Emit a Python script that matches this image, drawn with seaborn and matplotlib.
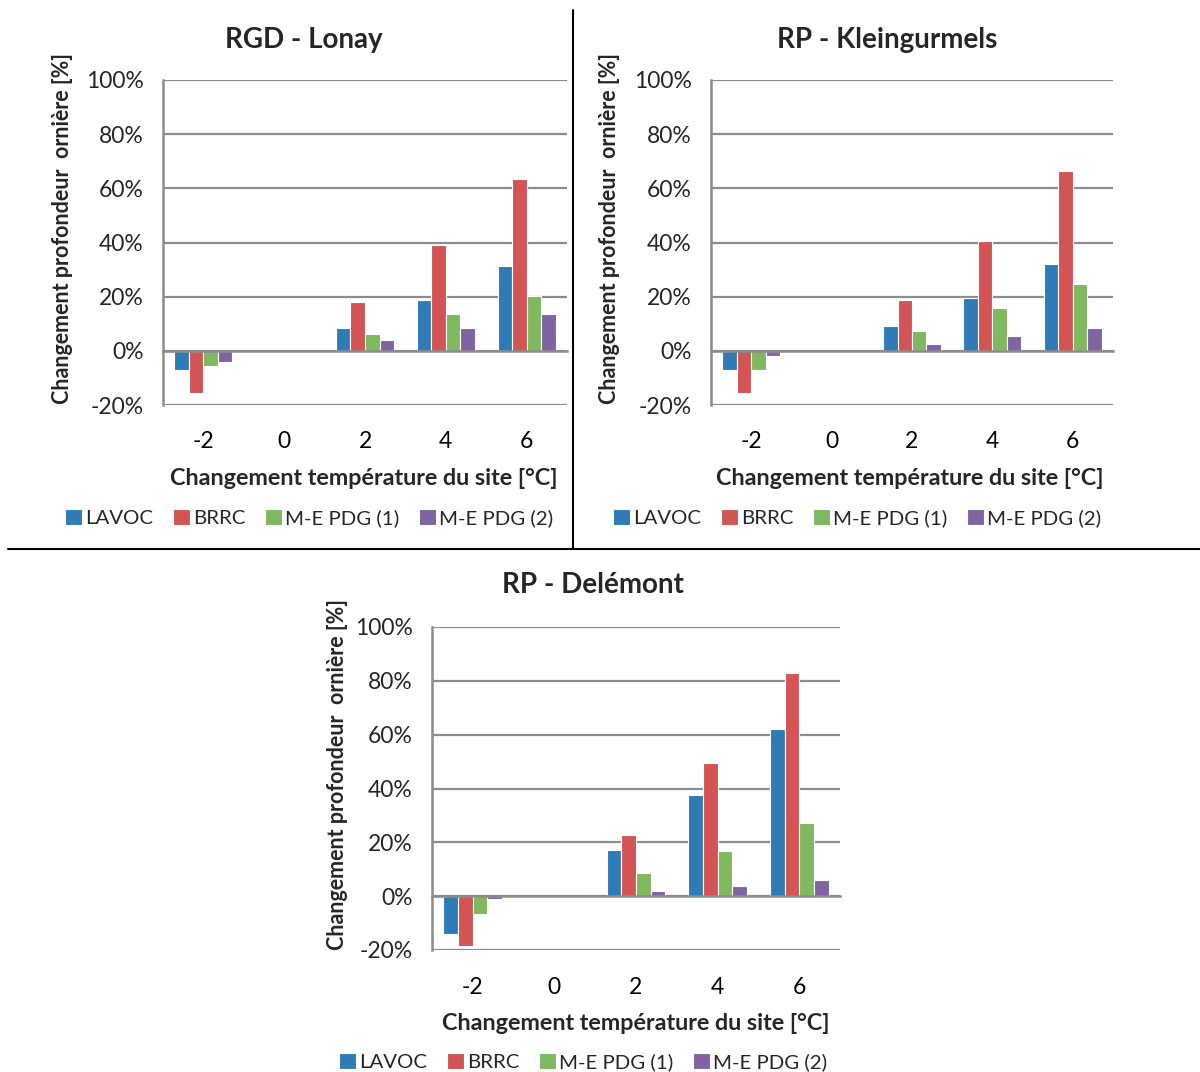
import pandas as pd
import numpy as np
import seaborn as sns
import matplotlib.pyplot as plt
from matplotlib.lines import Line2D
from matplotlib.ticker import FuncFormatter

# Data
temperatures = ["-2", "0", "2", "4", "6"]
models = ["LAVOC", "BRRC", "M-E PDG (1)", "M-E PDG (2)"]
colors = ["#2E7BB6", "#D25454", "#7FB85E", "#8064A2"]

lonay_lavoc = [-7.0, 0, 8.3, 18.8, 31.4]
lonay_brrc = [-15.4, 0, 18.0, 38.9, 63.5]
lonay_me1 = [-5.7, 0, 6.1, 13.6, 20.1]
lonay_me2 = [-4.2, 0, 3.9, 8.3, 13.6]

klein_lavoc = [-7.0, 0, 9.1, 19.5, 32.1]
klein_brrc = [-15.4, 0, 18.8, 40.4, 66.4]
klein_me1 = [-7.0, 0, 7.5, 15.8, 24.8]
klein_me2 = [-2.0, 0, 2.5, 5.4, 8.3]

delem_lavoc = [-14.0, 0, 17.3, 37.5, 62.2]
delem_brrc = [-18.4, 0, 22.6, 49.4, 83.0]
delem_me1 = [-6.5, 0, 8.5, 16.6, 27.0]
delem_me2 = [-1.1, 0, 1.9, 3.9, 6.1]

titles = ["RGD - Lonay", "RP - Kleingurmels", "RP - Delémont"]
ylabel = "Changement profondeur  ornière [%]"
xlabel = "Changement température du site [°C]"


def make_df(series):
    rows = []
    for name, vals in zip(models, series):
        for t, v in zip(temperatures, vals):
            rows.append({"Temp": t, "Model": name, "Value": v})
    return pd.DataFrame(rows)


sns.set_style("white")
plt.rcParams['font.family'] = ['Lato', 'DejaVu Sans']

fig = plt.figure(figsize=(12, 10.72), dpi=100)
W, H = 1200, 1072
GRID = "#8C8C8C"


def px_axes(x0, y0, x1, y1):
    return fig.add_axes([x0 / W, (H - y1) / H, (x1 - x0) / W, (y1 - y0) / H])


def draw_panel(ax, df, title, title_xy, ylab_xy, xlab_xy, leg_xy):
    sns.barplot(data=df, x="Temp", y="Value", hue="Model", hue_order=models,
                palette=colors, saturation=1, order=temperatures, width=0.72, ax=ax,
                edgecolor="white", linewidth=0.8, errorbar=None, legend=True)
    ax.set_ylim(-20, 100)
    ax.set_xlim(-0.5, 4.5)
    ax.set_yticks(np.arange(-20, 101, 20))
    ax.yaxis.set_major_formatter(FuncFormatter(lambda v, p: f"{int(v)}%"))
    ax.grid(axis="y", color=GRID, linewidth=1.6)
    ax.set_axisbelow(True)
    for s in ["top", "right"]:
        ax.spines[s].set_visible(False)
    ax.spines["left"].set_color(GRID)
    ax.spines["left"].set_linewidth(1.8)
    ax.spines["bottom"].set_position(("data", 0))
    ax.spines["bottom"].set_color(GRID)
    ax.spines["bottom"].set_linewidth(1.8)
    ax.set_xticks(range(5))
    ax.set_xticklabels(temperatures)
    ax.set_xticks(np.arange(-0.5, 5, 1), minor=True)
    ax.tick_params(axis="x", which="major", length=0, pad=58, labelsize=16.5, colors="black")
    ax.tick_params(axis="x", which="minor", length=6, width=1.6, color=GRID, direction="out")
    ax.tick_params(axis="y", length=6, width=1.6, color=GRID, labelsize=16.5, pad=8)
    ax.set_xlabel("")
    ax.set_ylabel("")
    fig.text(title_xy[0] / W, 1 - title_xy[1] / H, title,
             ha="center", va="center", fontsize=20, fontweight="bold")
    fig.text(ylab_xy[0] / W, 1 - ylab_xy[1] / H, ylabel, rotation=90, ha="center", va="center",
             fontsize=15.5, fontweight="bold")
    fig.text(xlab_xy[0] / W, 1 - xlab_xy[1] / H, xlabel, ha="center", va="center",
             fontsize=16.8, fontweight="bold")
    handles, labels = ax.get_legend_handles_labels()
    ax.legend(handles, labels, loc="center", bbox_to_anchor=(leg_xy[0] / W, 1 - leg_xy[1] / H),
              bbox_transform=fig.transFigure, ncol=4, frameon=False, fontsize=14.7,
              handlelength=0.85, handleheight=0.85, handletextpad=0.15,
              columnspacing=0.95, borderaxespad=0)


ax1 = px_axes(163, 80, 567, 405)
draw_panel(ax1, make_df([lonay_lavoc, lonay_brrc, lonay_me1, lonay_me2]),
           titles[0], (304, 40), (63, 228), (364, 479), (309, 518))

ax2 = px_axes(711, 80, 1113, 405)
draw_panel(ax2, make_df([klein_lavoc, klein_brrc, klein_me1, klein_me2]),
           titles[1], (887, 40), (610, 228), (910, 479), (857, 518))

ax3 = px_axes(432, 627, 840, 950)
draw_panel(ax3, make_df([delem_lavoc, delem_brrc, delem_me1, delem_me2]),
           titles[2], (593, 585), (337, 775), (636, 1024), (583, 1062))

# panel dividers
fig.add_artist(Line2D([573 / W, 573 / W], [1 - 10 / H, 1 - 548 / H], color="black", linewidth=1.5))
fig.add_artist(Line2D([8 / W, 1.0], [1 - 549 / H, 1 - 549 / H], color="black", linewidth=1.5))

plt.savefig("out.png", dpi=100)
